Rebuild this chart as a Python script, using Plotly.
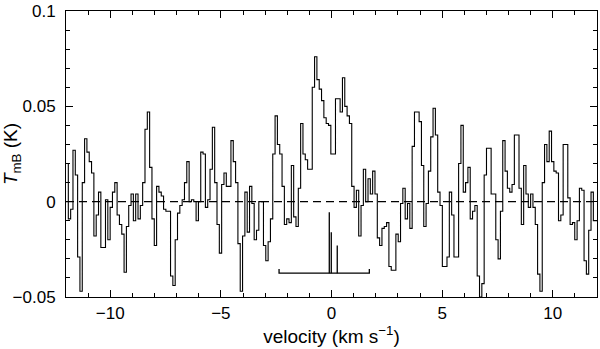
import plotly.graph_objects as go

# spectral axis: first channel edge and channel width (km/s)
v_start = -12.0
dv = 0.105

# main-beam temperature per channel (K)
tmb = [
    0.020, -0.009, -0.004, 0.027, 0.014, -0.029, -0.047, 0.010, 0.033, 0.026,
    0.021, 0.015, -0.018, -0.007, 0.005, -0.024, -0.024, 0.001, -0.020, -0.003,
    0.005, 0.010, -0.007, -0.012, -0.017, -0.037, -0.013, -0.002, 0.004, -0.010,
    0.004, -0.009, -0.002, 0.010, 0.038, 0.047, 0.018, -0.009, -0.023, 0.008,
    0.005, 0.003, -0.004, -0.005, -0.005, -0.039, -0.044, -0.020, -0.006, -0.002,
    0.001, 0.010, 0.021, 0.000, 0.001, 0.000, -0.010, 0.000, 0.026, 0.025,
    -0.003, 0.001, 0.017, 0.039, 0.010, -0.012, -0.027, 0.009, 0.015, 0.008,
    0.008, 0.032, 0.021, 0.010, -0.022, -0.047, -0.018, 0.005, -0.016, 0.008,
    -0.001, -0.020, -0.015, 0.000, 0.000, -0.023, -0.031, -0.021, -0.009, 0.025,
    0.045, 0.030, 0.025, 0.008, -0.012, -0.009, -0.011, 0.019, -0.008, -0.013,
    0.007, 0.041, 0.025, 0.022, 0.017, 0.017, 0.060, 0.076, 0.064, 0.059,
    0.053, 0.044, 0.041, 0.040, 0.025, 0.025, 0.054, 0.054, 0.047, 0.065,
    0.050, 0.045, 0.041, 0.008, -0.003, 0.006, -0.018, -0.002, 0.017, 0.000,
    0.012, 0.004, 0.016, 0.004, -0.019, -0.023, -0.014, -0.013, -0.011, -0.034,
    -0.036, -0.036, -0.017, -0.021, -0.001, 0.007, -0.009, -0.001, -0.014, 0.029,
    0.047, 0.047, 0.042, 0.019, -0.013, -0.001, 0.016, 0.034, 0.049, 0.035,
    0.005, -0.002, -0.034, -0.034, -0.029, 0.005, -0.007, -0.029, -0.029, 0.020,
    0.040, 0.005, 0.010, 0.018, -0.009, -0.005, -0.002, -0.039, -0.050, -0.043,
    0.014, 0.028, 0.028, 0.004, 0.004, -0.020, -0.030, -0.005, 0.032, 0.016,
    0.007, 0.005, 0.009, 0.035, 0.035, 0.007, -0.012, 0.019, 0.004, -0.003,
    0.004, -0.003, -0.012, -0.038, -0.047, 0.010, 0.030, 0.021, 0.037, 0.021,
    0.016, 0.015, -0.010, -0.007, 0.030, 0.030, 0.002, -0.012, -0.011, -0.020,
    -0.010, 0.007, 0.006, -0.031, -0.038, -0.015, 0.005, -0.010, -0.010,
]

# hyperfine component markers: velocities and top of each stick (K)
hf_vel = [-0.10, -0.01, 0.26]
hf_top = [-0.0056, -0.016, -0.023]
hf_base = -0.0375
hf_span = [-2.37, 1.71]
hf_end_top = -0.0353

edges = [v_start + dv * i for i in range(len(tmb) + 1)]
steps = tmb + [tmb[-1]]

fig = go.Figure()

fig.add_trace(go.Scatter(
    x=edges, y=steps, mode="lines", line_shape="hv",
    line=dict(color="black", width=1.1), hoverinfo="skip",
))

# marker bar with end ticks and component sticks
mx, my = [], []
mx += [hf_span[0], hf_span[0], hf_span[1], hf_span[1], None]
my += [hf_end_top, hf_base, hf_base, hf_end_top, None]
for v, t in zip(hf_vel, hf_top):
    mx += [v, v, None]
    my += [hf_base, t, None]
fig.add_trace(go.Scatter(
    x=mx, y=my, mode="lines",
    line=dict(color="black", width=1.3), hoverinfo="skip",
))

fig.add_shape(type="line", xref="x", yref="y", x0=-12, x1=12, y0=0, y1=0,
              line=dict(color="black", width=1.2, dash="8px,5px"))

axis_common = dict(
    showline=True, linecolor="black", linewidth=1, mirror="ticks",
    ticks="inside", ticklen=7, tickcolor="black", tickwidth=1,
    showgrid=False, zeroline=False,
    tickfont=dict(family="Liberation Sans", size=17, color="black"),
    automargin=False,
)

fig.update_layout(
    width=600, height=349,
    margin=dict(l=66, r=3, t=11, b=52, autoexpand=False),
    paper_bgcolor="white", plot_bgcolor="white",
    showlegend=False,
    font=dict(family="Liberation Sans", size=17, color="black"),
    xaxis=dict(
        range=[-12, 12], dtick=5, tick0=0,
        minor=dict(dtick=1, ticks="inside", ticklen=4, tickcolor="black"),
        title=dict(text="velocity (km s<sup>\u22121</sup>)", standoff=2,
                   font=dict(size=19, color="black")),
        ticklabelstandoff=1,
        **axis_common,
    ),
    yaxis=dict(
        range=[-0.05, 0.1], dtick=0.05, tick0=0,
        minor=dict(dtick=0.01, ticks="inside", ticklen=4, tickcolor="black"),
        title=dict(text="<i>T</i><sub>mB</sub> (K)", standoff=10,
                   font=dict(size=19, color="black")),
        ticklabelstandoff=6,
        **axis_common,
    ),
)

fig.write_html("out.html", config={"displayModeBar": False},
               post_script="document.body.style.margin='0';document.body.style.overflow='hidden';")
